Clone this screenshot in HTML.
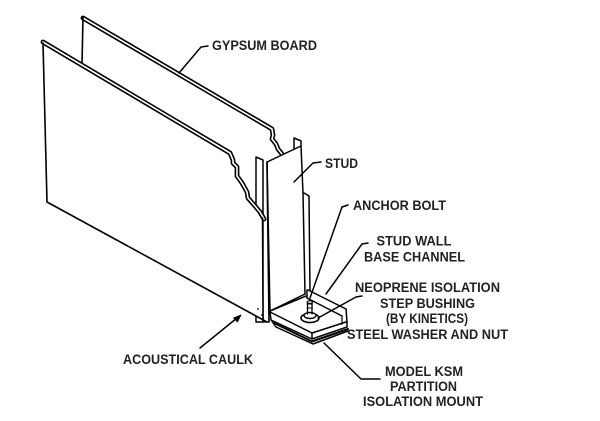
<!DOCTYPE html>
<html>
<head>
<meta charset="utf-8">
<style>
  html, body { margin: 0; padding: 0; background: #fff; }
  body { width: 600px; height: 421px; overflow: hidden; }
  svg { display: block; }
  text { font-family: "Liberation Sans", Arial, sans-serif; font-size: 13.5px; font-weight: bold; fill: #222; }
</style>
</head>
<body>
<svg width="600" height="421" viewBox="0 0 600 421" xmlns="http://www.w3.org/2000/svg">
  <rect width="600" height="421" fill="#fff"/>
  <g stroke-linejoin="round" stroke-linecap="round" fill="none">
    <!-- Back gypsum board -->
    <path d="M83,18 L272,129 L273,135 L272,139 L276,144 L278,149 L282,154" stroke="#000" stroke-width="4.8"/>
    <path d="M83,18 L272,129 L273,135 L272,139 L276,144 L278,149 L282,154" stroke="#fff" stroke-width="1.6"/>
    <path d="M83,17 L82,64" stroke="#000" stroke-width="1.6"/>

    <!-- Stud flange outer line (behind front board) -->
    <path d="M256,157 L263,160 L263,322 L256,322 Z" fill="#fff" stroke="#000" stroke-width="1.5"/>
    <!-- Stud web -->
    <path d="M267,162 L301,146 L303,193 L305,294 L270,311 Z" fill="#fff" stroke="#000" stroke-width="1.5"/>
    <!-- back flange tip -->
    <path d="M294,149 L294,138 L301,141 L301,146" stroke="#000" stroke-width="1.5"/>
    <!-- right strip -->
    <path d="M304,193 L309,196 L310,292" stroke="#000" stroke-width="1.5"/>

    <!-- Front gypsum board fill -->
    <path d="M43,42 L230,153 L233,160 L233,163 L237,167 L237,176 L242,183 L247,192 L248,198 L255,206 L260,212 L263,219 L263,322 L267,322 L47,202 Z" fill="#fff"/>
    <!-- front board top/jagged double line -->
    <path d="M43,42 L230,153 L233,160 L233,163 L237,167 L237,176 L242,183 L247,192 L248,198 L255,206 L260,212 L264,219" stroke="#000" stroke-width="4.8"/>
    <path d="M43,42 L230,153 L233,160 L233,163 L237,167 L237,176 L242,183 L247,192 L248,198 L255,206 L260,212 L264,219" stroke="#fff" stroke-width="1.6"/>
    <path d="M43,43 L47,202 L267,322" stroke="#000" stroke-width="1.6"/>
    <!-- board/flange edge lines -->
    <path d="M262.5,218 L263,322" stroke="#000" stroke-width="1.5"/>
    <path d="M267,162 L269,322" stroke="#000" stroke-width="1.6"/>
    <path d="M263,322 L269,322" stroke="#000" stroke-width="1.3"/>
    <!-- dots -->
    <circle cx="258" cy="309" r="0.9" fill="#000" stroke="none"/>
    <circle cx="262" cy="315" r="0.9" fill="#000" stroke="none"/>

    <!-- Base channel & isolation mount -->
    <path d="M270,311 L306,296 L307,290 L310,291 L347,309 L348,331 L314,344 L276,327 L270,322 Z" fill="#fff"/>
    <path d="M270,311 L306,296" stroke="#000" stroke-width="1.5"/>
    <path d="M307,290 L307,298" stroke="#000" stroke-width="1.5"/>
    <path d="M308,290 L346,309" stroke="#000" stroke-width="1.5"/>
    <path d="M307,298 L342,316" stroke="#000" stroke-width="1.5"/>
    <path d="M346,309 L347,322" stroke="#000" stroke-width="1.5"/>
    <path d="M342,316 L342,324" stroke="#000" stroke-width="1.2"/>
    <path d="M270,312 L312,333 L346,322" stroke="#000" stroke-width="1.5"/>
    <path d="M312,333 L312,339" stroke="#000" stroke-width="1.5"/>
    <path d="M270,312 L271,320 L312,339 L347,327 L347,322" stroke="#000" stroke-width="1.5"/>
    <path d="M274,323 L312,341.5 L348,329" stroke="#000" stroke-width="2"/>
    <path d="M276,327 L313,344 L348,331" stroke="#000" stroke-width="1.5"/>
    <path d="M271,320 L276,327" stroke="#000" stroke-width="1.3"/>

    <!-- Nut, washer, bolt -->
    <ellipse cx="310" cy="318" rx="9" ry="4.5" fill="#fff" stroke="#000" stroke-width="1.6"/>
    <ellipse cx="310" cy="315.5" rx="6" ry="3" fill="#fff" stroke="#000" stroke-width="1.4"/>
    <path d="M307.5,302 L307.5,314 M312,302 L312,314" stroke="#000" stroke-width="1.3"/>
    <path d="M307,304 L312.5,304 M307,308 L312.5,308" stroke="#000" stroke-width="1"/>
    <ellipse cx="309.8" cy="302" rx="2.6" ry="1.3" fill="#fff" stroke="#000" stroke-width="1.1"/>

    <!-- Leaders -->
    <path d="M208,46 L201,47 L179,73" stroke="#000" stroke-width="1.5"/>
    <path d="M321,162 L313,163 L294,182" stroke="#000" stroke-width="1.5"/>
    <path d="M348,205 L342,207 L310,298" stroke="#000" stroke-width="1.5"/>
    <path d="M368,243 L362,244 L326,294" stroke="#000" stroke-width="1.5"/>
    <path d="M362,296 L356,297 L318,318" stroke="#000" stroke-width="1.5"/>
    <path d="M380,379 L361,379 L324,343" stroke="#000" stroke-width="1.5"/>
    <path d="M200,348 L237,318" stroke="#000" stroke-width="1.5"/>
    <path d="M241,315 L233.5,318 L237.5,322 Z" fill="#000" stroke="#000" stroke-width="0.8"/>
  </g>

  <!-- Labels -->
  <text x="212" y="50" textLength="105" lengthAdjust="spacingAndGlyphs">GYPSUM BOARD</text>
  <text x="325" y="168" textLength="33" lengthAdjust="spacingAndGlyphs">STUD</text>
  <text x="353" y="210" textLength="93" lengthAdjust="spacingAndGlyphs">ANCHOR BOLT</text>
  <text x="414" y="245.5" text-anchor="middle" textLength="75" lengthAdjust="spacingAndGlyphs">STUD WALL</text>
  <text x="414.5" y="261.5" text-anchor="middle" textLength="101" lengthAdjust="spacingAndGlyphs">BASE CHANNEL</text>
  <text x="427.5" y="292" text-anchor="middle" textLength="145" lengthAdjust="spacingAndGlyphs">NEOPRENE ISOLATION</text>
  <text x="427.5" y="308" text-anchor="middle" textLength="95" lengthAdjust="spacingAndGlyphs">STEP BUSHING</text>
  <text x="427" y="323" text-anchor="middle" textLength="82" lengthAdjust="spacingAndGlyphs">(BY KINETICS)</text>
  <text x="427.5" y="339" text-anchor="middle" textLength="161" lengthAdjust="spacingAndGlyphs">STEEL WASHER AND NUT</text>
  <text x="424" y="376" text-anchor="middle" textLength="78" lengthAdjust="spacingAndGlyphs">MODEL KSM</text>
  <text x="423.5" y="391" text-anchor="middle" textLength="67" lengthAdjust="spacingAndGlyphs">PARTITION</text>
  <text x="423" y="406" text-anchor="middle" textLength="120" lengthAdjust="spacingAndGlyphs">ISOLATION MOUNT</text>
  <text x="123" y="364" textLength="130" lengthAdjust="spacingAndGlyphs">ACOUSTICAL CAULK</text>
</svg>
</body>
</html>
